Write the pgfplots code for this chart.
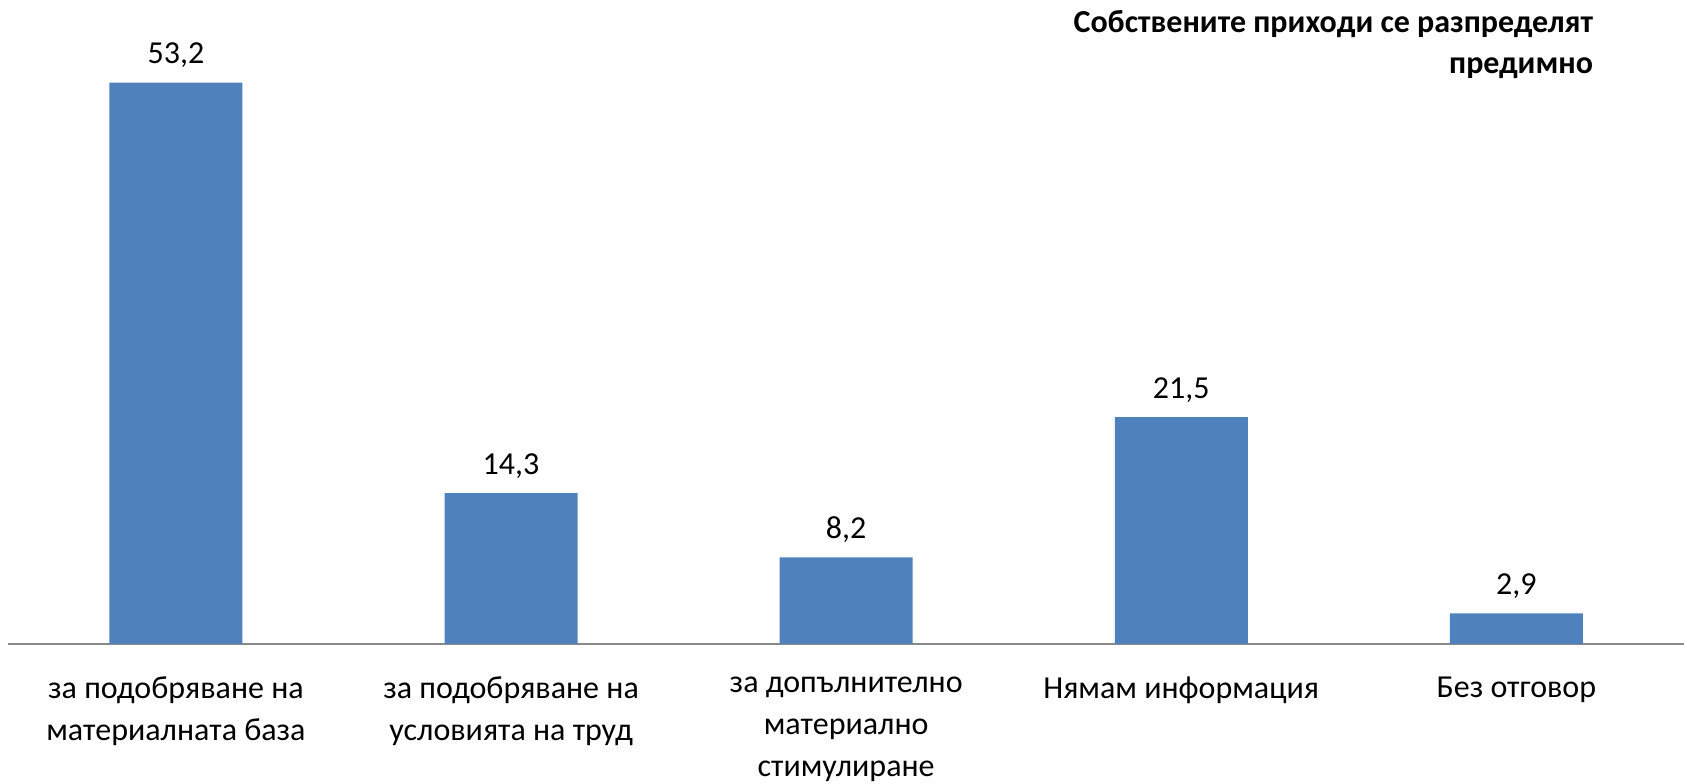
\documentclass[border=0pt]{standalone}
\usepackage{fontspec}
\setmainfont{Carlito}
\usepackage{pgfplots}
\pgfplotsset{compat=1.18}
\definecolor{barblue}{HTML}{4F81BD}
\definecolor{axgray}{HTML}{898989}
\begin{document}
\begin{tikzpicture}
\begin{axis}[name=ax, scale only axis, width=837.75pt, height=316.5pt,
  xmin=-0.5, xmax=4.5, ymin=0, ymax=60,
  axis x line*=bottom, axis y line=none,
  x axis line style={draw=axgray, line width=1pt, -},
  ybar, bar width=66.5pt,
  xtick={0,1,2,3,4},
  xticklabels={{за подобряване на\\материалната база},{за подобряване на\\условията на труд},{за допълнително\\материално\\стимулиране},{Нямам информация},{Без отговор}},
  x tick label style={align=center, font=\fontsize{16}{21}\selectfont, anchor=north, inner sep=0pt, yshift=-12pt},
  xtick style={draw=none},
  ytick=\empty,
  nodes near coords,
  nodes near coords style={font=\fontsize{16}{19}\selectfont, anchor=base, inner sep=0pt, yshift=9.5pt,
    /pgf/number format/.cd, assume math mode=true, use comma, fixed, precision=1, fixed zerofill},
  clip=false,
]
\addplot[fill=barblue, draw=none] coordinates {(0,53.2) (1,14.3) (2,8.2) (3,21.5) (4,2.9)};
\end{axis}
\node[anchor=base east, align=right, inner sep=0pt, font=\fontsize{16}{20.5}\selectfont\bfseries]
  at ([shift={(792.5pt,285pt)}]ax.south west) {Собствените приходи се разпределят\\предимно};
\pgfresetboundingbox
\useasboundingbox ([shift={(-4.2pt,-70pt)}]ax.south west) rectangle ([shift={(0.05pt,5.5pt)}]ax.north east);
\end{tikzpicture}
\end{document}
